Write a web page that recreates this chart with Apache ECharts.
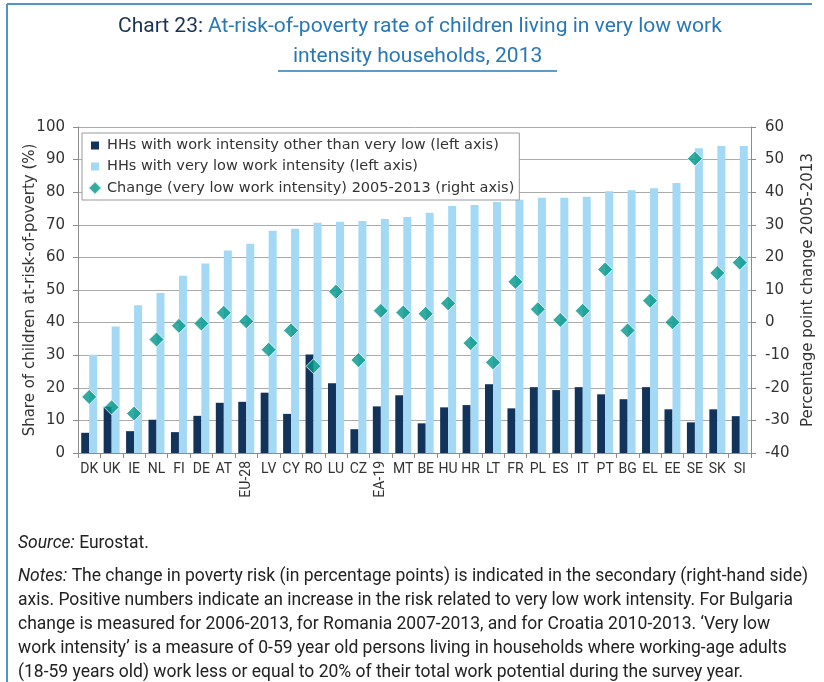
<!DOCTYPE html>
<html><head><meta charset="utf-8">
<script src="https://cdn.jsdelivr.net/npm/echarts@6/dist/echarts.min.js"></script>
<style>html,body{margin:0;padding:0;background:#fff}#c{width:824px;height:682px}</style>
</head><body><div id="c"></div>
<script>
const categories = ['DK','UK','IE','NL','FI','DE','AT','EU-28','LV','CY','RO','LU','CZ','EA-19','MT','BE','HU','HR','LT','FR','PL','ES','IT','PT','BG','EL','EE','SE','SK','SI'];
const otherThanVeryLow = [6.2,14.2,6.7,10.2,6.4,11.4,15.4,15.7,18.5,12.0,30.2,21.4,7.3,14.3,17.7,9.1,14.0,14.7,21.1,13.7,20.2,19.3,20.2,18.0,16.5,20.2,13.4,9.4,13.4,11.3];
const veryLow = [30.1,38.8,45.3,49.1,54.4,58.1,62.1,64.2,68.2,68.8,70.6,70.9,71.2,71.8,72.4,73.7,75.8,76.1,77.0,77.7,78.3,78.3,78.6,80.3,80.6,81.2,82.8,93.5,94.2,94.2];
const change2005_2013 = [-22.8,-26.0,-27.9,-5.2,-1.0,-0.3,3.0,0.4,-8.3,-2.4,-13.4,9.5,-11.5,3.6,3.1,2.7,5.9,-6.3,-12.2,12.5,4.1,0.8,3.6,16.3,-2.4,6.7,0.1,50.3,15.2,18.4];
const rotatedLabels = ['EU-28','EA-19'];
const leftTicks = {min:0, max:100, interval:10};
const rightTicks = {min:-40, max:60, interval:10};

const NARROW = 'Roboto,sans-serif';
const SANS = '"DejaVu Sans",Verdana,sans-serif';
const S1 = 'HHs with work intensity other than very low (left axis)';
const S2 = 'HHs with very low work intensity (left axis)';
const S3 = 'Change (very low work intensity) 2005-2013 (right axis)';
const AX = '#8c8c8c';
const SQUARE = 'path://M0,0M14,14M3,3h8v8h-8z';

const chart = echarts.init(document.getElementById('c'));
chart.setOption({
  animation: false,
  backgroundColor: '#fff',
  title: [
    { text: '{a|Chart 23:} {b|At-risk-of-poverty rate of children living in very low work}', left: 113, top: 11,
      textStyle: { rich: { a: {fontFamily: NARROW, fontSize: 21, fontWeight: 'normal', color: '#1c3352'}, b: {fontFamily: NARROW, fontSize: 21, fontWeight: 'normal', color: '#2878b6'} } } },
    { text: 'intensity households, 2013', left: 288, top: 41,
      textStyle: { fontFamily: NARROW, fontSize: 21, fontWeight: 'normal', color: '#2878b6' } }
  ],
  legend: {
    orient: 'vertical', left: 82, top: 133, backgroundColor: '#fff', borderColor: '#9a9a9a', borderWidth: 1,
    padding: [5, 5, 4, 5], itemGap: 6, itemWidth: 14, itemHeight: 14,
    textStyle: { fontFamily: SANS, fontSize: 14.5, color: '#333' },
    data: [{name: S1, icon: SQUARE}, {name: S2, icon: SQUARE}, {name: S3, icon: 'diamond'}]
  },
  grid: { left: 78, right: 73, top: 127, bottom: 229 },
  xAxis: [
    { type: 'category', data: categories, position: 'bottom',
      axisLine: { lineStyle: { color: AX } },
      axisTick: { show: true, length: 5, lineStyle: { color: AX } },
      axisLabel: { interval: 0, margin: 9, fontFamily: NARROW, fontSize: 14, color: '#333',
        formatter: v => rotatedLabels.includes(v) ? '' : v } },
    { type: 'category', data: categories, position: 'bottom', offset: 0,
      axisLine: { show: false }, axisTick: { show: false },
      axisLabel: { interval: 0, margin: 8, rotate: 90, fontFamily: NARROW, fontSize: 14, color: '#333',
        formatter: v => rotatedLabels.includes(v) ? v : '' } }
  ],
  yAxis: [
    { type: 'value', min: leftTicks.min, max: leftTicks.max, interval: leftTicks.interval,
      name: 'Share of children at-risk-of-poverty (%)', nameLocation: 'middle', nameGap: 40, nameRotate: 90,
      nameMoveOverlap: false,
      nameTextStyle: { fontFamily: SANS, fontSize: 15, color: '#333' },
      axisLine: { show: true, lineStyle: { color: AX } },
      axisTick: { show: true, length: 5, lineStyle: { color: AX } },
      axisLabel: { fontFamily: SANS, fontSize: 15, color: '#333', margin: 13 },
      splitLine: { lineStyle: { color: '#ababab' } } },
    { type: 'value', min: rightTicks.min, max: rightTicks.max, interval: rightTicks.interval, position: 'right',
      name: 'Percentage point change 2005-2013', nameLocation: 'middle', nameGap: 50, nameRotate: 90,
      nameTextStyle: { fontFamily: SANS, fontSize: 15, color: '#333' },
      axisLine: { show: true, lineStyle: { color: AX } },
      axisTick: { show: true, length: 5, lineStyle: { color: AX } },
      axisLabel: { fontFamily: SANS, fontSize: 15, color: '#333', margin: 14 },
      splitLine: { show: false } }
  ],
  series: [
    { name: S1, type: 'bar', data: otherThanVeryLow, barWidth: 8, barGap: '0%', itemStyle: { color: '#12335a' } },
    { name: S2, type: 'bar', data: veryLow, barWidth: 8, barGap: '0%', itemStyle: { color: '#a3d9f5' } },
    { name: S3, type: 'scatter', yAxisIndex: 1, data: change2005_2013, symbol: 'diamond', symbolSize: 15,
      itemStyle: { color: '#009688', borderColor: '#fff', borderWidth: 1 }, z: 5 }
  ],
  graphic: [
    { type: 'line', shape: { x1: 7, y1: 4, x2: 812, y2: 4 }, style: { stroke: '#4f93c8', lineWidth: 2 } },
    { type: 'line', shape: { x1: 7, y1: 4, x2: 7, y2: 682 }, style: { stroke: '#4f93c8', lineWidth: 2 } },
    { type: 'line', shape: { x1: 278, y1: 71, x2: 557, y2: 71 }, style: { stroke: '#2878b6', lineWidth: 1.5 } },
    { type: 'text', left: 18, top: 535, style: { text: '{i|Source:} Eurostat.', font: '17.5px ' + NARROW, fill: '#222',
        rich: { i: { fontStyle: 'italic', fontFamily: NARROW, fontSize: 17.5, fill: '#222' } } } },
    { type: 'text', left: 18, top: 565, style: {
        text: '{i|Notes:} The change in poverty risk (in percentage points) is indicated in the secondary (right-hand side)\n' +
              'axis. Positive numbers indicate an increase in the risk related to very low work intensity. For Bulgaria\n' +
              'change is measured for 2006-2013, for Romania 2007-2013, and for Croatia 2010-2013. \u2018Very low\n' +
              'work intensity\u2019 is a measure of 0-59 year old persons living in households where working-age adults\n' +
              '(18-59 years old) work less or equal to 20% of their total work potential during the survey year.',
        font: '17.5px ' + NARROW, fill: '#222', lineHeight: 24,
        rich: { i: { fontStyle: 'italic', fontFamily: NARROW, fontSize: 17.5, fill: '#222', lineHeight: 24 } } } }
  ]
});
</script></body></html>
